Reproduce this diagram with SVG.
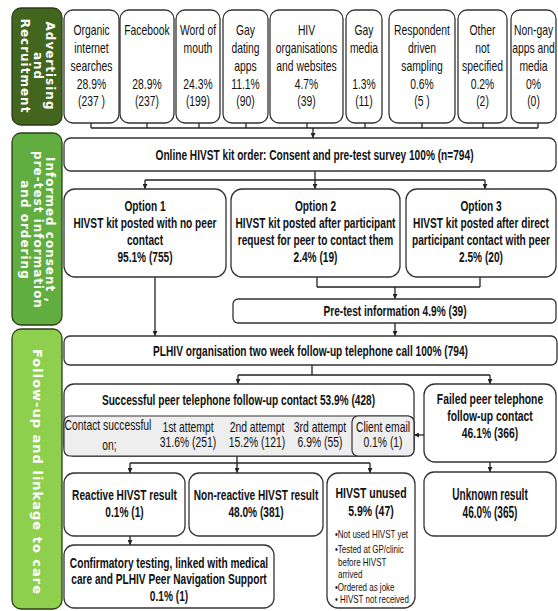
<svg xmlns="http://www.w3.org/2000/svg" width="558" height="611" viewBox="0 0 558 611">
<defs>
<marker id="ah" viewBox="0 0 6 6" refX="6" refY="3" markerWidth="5" markerHeight="5" orient="auto" markerUnits="userSpaceOnUse">
<path d="M0,0 L6,3 L0,6 z" fill="#222"/>
</marker>
<style>
.box{fill:#fff;stroke:#333;stroke-width:1.3}
.gray{fill:#eeeeee;stroke:#333;stroke-width:1.2}
.t{font-family:"Liberation Sans",Arial,sans-serif;fill:#111;text-anchor:middle}
.r{font-size:14px}
.b{font-size:14.5px;font-weight:bold}
.s{font-size:10.5px;text-anchor:start}
.side{font-family:"DejaVu Sans",sans-serif;font-weight:bold;fill:#fff;text-anchor:middle;letter-spacing:1px}
.ln{fill:none;stroke:#222;stroke-width:1.3}
.ar{fill:none;stroke:#222;stroke-width:1.3;marker-end:url(#ah)}
</style>
</defs>
<rect width="558" height="611" fill="#fff"/>

<g id="side1">
<rect x="12" y="8" width="50" height="117" rx="9" fill="#43661f" stroke="#2b3d18" stroke-width="1.3"/>
<text class="side" font-size="12" transform="translate(46,66) rotate(90)"><tspan x="0" dy="0">Advertising</tspan><tspan x="0" dy="12.5">and</tspan><tspan x="0" dy="12.5">Recruitment</tspan></text>
</g>
<g id="side2">
<rect x="12" y="133" width="50" height="192" rx="9" fill="#62ad3f" stroke="#2b3d18" stroke-width="1.3"/>
<text class="side" font-size="12" transform="translate(46,230) rotate(90)"><tspan x="0" dy="0">Informed consent ,</tspan><tspan x="0" dy="12.5">pre-test information</tspan><tspan x="0" dy="12.5">and ordering</tspan></text>
</g>
<g id="side3">
<rect x="12" y="329" width="50" height="280" rx="9" fill="#8fcf4e" stroke="#2b3d18" stroke-width="1.3"/>
<text class="side" font-size="13" transform="translate(32.5,472) rotate(90)">Follow-up and linkage to care</text>
</g>

<g id="connectors">
<path class="ln" d="M91,123 V128 M147,123 V128 M199,123 V128 M246,123 V128 M307,123 V128 M365,123 V128 M422,123 V128 M483,123 V128 M538,123 V128 M91,128 H538"/>
<path class="ar" d="M313,128 V138"/>
<path class="ln" d="M315,171 V180 M145,180 H485"/>
<path class="ar" d="M145,180 V189"/>
<path class="ar" d="M315,180 V189"/>
<path class="ar" d="M485,180 V189"/>
<path class="ln" d="M317,277 V287 M480,277 V287 M317,287 H480"/>
<path class="ar" d="M395,287 V299"/>
<path class="ar" d="M155,277 V336"/>
<path class="ar" d="M395,323 V336"/>
<path class="ln" d="M312,365 V375 M238,375 H490"/>
<path class="ar" d="M238,375 V384"/>
<path class="ar" d="M490,375 V384"/>
<path class="ar" d="M424,435 H414"/>
<path class="ar" d="M490,462 V472"/>
<path class="ln" d="M237,456 V463 M130,463 H370"/>
<path class="ar" d="M130,463 V473"/>
<path class="ar" d="M237,463 V473"/>
<path class="ar" d="M370,463 V473"/>
<path class="ar" d="M130,536 V545"/>
</g>

<g id="src-organic"><rect class="box" x="64" y="10" width="55" height="113" rx="9"/>
<text class="t r" transform="translate(91.5,0) scale(0.74,1)"><tspan x="0" y="35">Organic</tspan><tspan x="0" y="53">internet</tspan><tspan x="0" y="71">searches</tspan><tspan x="0" y="89">28.9%</tspan><tspan x="0" y="106">(237 )</tspan></text></g>
<g id="src-facebook"><rect class="box" x="120" y="10" width="54" height="113" rx="9"/>
<text class="t r" transform="translate(147,0) scale(0.74,1)"><tspan x="0" y="35">Facebook</tspan><tspan x="0" y="89">28.9%</tspan><tspan x="0" y="106">(237)</tspan></text></g>
<g id="src-wom"><rect class="box" x="176" y="10" width="44" height="113" rx="9"/>
<text class="t r" transform="translate(198,0) scale(0.74,1)"><tspan x="0" y="35">Word of</tspan><tspan x="0" y="53">mouth</tspan><tspan x="0" y="89">24.3%</tspan><tspan x="0" y="106">(199)</tspan></text></g>
<g id="src-gayapps"><rect class="box" x="223" y="10" width="45" height="113" rx="9"/>
<text class="t r" transform="translate(245.5,0) scale(0.74,1)"><tspan x="0" y="35">Gay</tspan><tspan x="0" y="53">dating</tspan><tspan x="0" y="71">apps</tspan><tspan x="0" y="89">11.1%</tspan><tspan x="0" y="106">(90)</tspan></text></g>
<g id="src-hivorg"><rect class="box" x="270" y="10" width="73" height="113" rx="9"/>
<text class="t r" transform="translate(306.5,0) scale(0.74,1)"><tspan x="0" y="35">HIV</tspan><tspan x="0" y="53">organisations</tspan><tspan x="0" y="71">and websites</tspan><tspan x="0" y="89">4.7%</tspan><tspan x="0" y="106">(39)</tspan></text></g>
<g id="src-gaymedia"><rect class="box" x="346" y="10" width="36" height="113" rx="9"/>
<text class="t r" transform="translate(364,0) scale(0.74,1)"><tspan x="0" y="35">Gay</tspan><tspan x="0" y="53">media</tspan><tspan x="0" y="89">1.3%</tspan><tspan x="0" y="106">(11)</tspan></text></g>
<g id="src-rds"><rect class="box" x="389" y="10" width="66" height="113" rx="9"/>
<text class="t r" transform="translate(422,0) scale(0.74,1)"><tspan x="0" y="35">Respondent</tspan><tspan x="0" y="53">driven</tspan><tspan x="0" y="71">sampling</tspan><tspan x="0" y="89">0.6%</tspan><tspan x="0" y="106">(5 )</tspan></text></g>
<g id="src-other"><rect class="box" x="458" y="10" width="49" height="113" rx="9"/>
<text class="t r" transform="translate(482.5,0) scale(0.74,1)"><tspan x="0" y="35">Other</tspan><tspan x="0" y="53">not</tspan><tspan x="0" y="71">specified</tspan><tspan x="0" y="89">0.2%</tspan><tspan x="0" y="106">(2)</tspan></text></g>
<g id="src-nongay"><rect class="box" x="511" y="10" width="45" height="113" rx="9"/>
<text class="t r" transform="translate(533.5,0) scale(0.74,1)"><tspan x="0" y="35">Non-gay</tspan><tspan x="0" y="53">apps and</tspan><tspan x="0" y="71">media</tspan><tspan x="0" y="89">0%</tspan><tspan x="0" y="106">(0)</tspan></text></g>

<g id="order"><rect class="box" x="64" y="138" width="492" height="33" rx="7"/>
<text class="t b" transform="translate(314.5,0) scale(0.7,1)" x="0" y="160">Online HIVST kit order: Consent and pre-test survey 100% (n=794)</text></g>

<g id="opt1"><rect class="box" x="64" y="189" width="162" height="88" rx="11"/>
<text class="t b" transform="translate(145,0) scale(0.7,1)"><tspan x="0" y="211">Option 1</tspan><tspan x="0" y="228">HIVST kit posted with no peer</tspan><tspan x="0" y="245">contact</tspan><tspan x="0" y="262">95.1% (755)</tspan></text></g>
<g id="opt2"><rect class="box" x="231" y="189" width="169" height="88" rx="11"/>
<text class="t b" transform="translate(315.5,0) scale(0.7,1)"><tspan x="0" y="211">Option 2</tspan><tspan x="0" y="228">HIVST kit posted after participant</tspan><tspan x="0" y="245">request for peer to contact them</tspan><tspan x="0" y="262">2.4% (19)</tspan></text></g>
<g id="opt3"><rect class="box" x="406" y="189" width="150" height="88" rx="11"/>
<text class="t b" transform="translate(481,0) scale(0.7,1)"><tspan x="0" y="211">Option 3</tspan><tspan x="0" y="228">HIVST kit posted after direct</tspan><tspan x="0" y="245">participant contact with peer</tspan><tspan x="0" y="262">2.5% (20)</tspan></text></g>

<g id="pretest"><rect class="box" x="233" y="299" width="323" height="24" rx="5"/>
<text class="t b" transform="translate(395,0) scale(0.7,1)" x="0" y="316">Pre-test information 4.9% (39)</text></g>

<g id="followup"><rect class="box" x="64" y="336" width="493" height="29" rx="6"/>
<text class="t b" transform="translate(310.5,0) scale(0.7,1)" x="0" y="356">PLHIV organisation two week follow-up telephone call 100% (794)</text></g>

<g id="success"><rect class="box" x="64" y="384" width="350" height="72" rx="10"/>
<text class="t b" transform="translate(238.5,0) scale(0.7,1)" x="0" y="405">Successful peer telephone follow-up contact 53.9% (428)</text>
<rect class="gray" x="64" y="416" width="350" height="40" rx="6"/>
<rect class="gray" x="352" y="416" width="62" height="40" rx="6"/>
<text class="t r" transform="translate(108,0) scale(0.74,1)"><tspan x="0" y="430">Contact successful</tspan><tspan x="2" y="450">on;</tspan></text>
<text class="t r" transform="translate(188,0) scale(0.74,1)"><tspan x="0" y="432">1st attempt</tspan><tspan x="0" y="447">31.6% (251)</tspan></text>
<text class="t r" transform="translate(257,0) scale(0.74,1)"><tspan x="0" y="432">2nd attempt</tspan><tspan x="0" y="447">15.2% (121)</tspan></text>
<text class="t r" transform="translate(320,0) scale(0.74,1)"><tspan x="0" y="432">3rd attempt</tspan><tspan x="0" y="447">6.9% (55)</tspan></text>
<text class="t r" transform="translate(383,0) scale(0.74,1)"><tspan x="0" y="432">Client email</tspan><tspan x="0" y="447">0.1% (1)</tspan></text>
</g>

<g id="failed"><rect class="box" x="424" y="384" width="132" height="78" rx="11"/>
<text class="t b" style="font-size:15px" transform="translate(490,0) scale(0.69,1)"><tspan x="0" y="404">Failed peer telephone</tspan><tspan x="0" y="421">follow-up contact</tspan><tspan x="0" y="438">46.1% (366)</tspan></text></g>

<g id="reactive"><rect class="box" x="64" y="473" width="121" height="63" rx="10"/>
<text class="t b" transform="translate(124.5,0) scale(0.7,1)"><tspan x="0" y="500">Reactive HIVST result</tspan><tspan x="0" y="517">0.1% (1)</tspan></text></g>
<g id="nonreactive"><rect class="box" x="189" y="473" width="134" height="63" rx="10"/>
<text class="t b" transform="translate(256,0) scale(0.7,1)"><tspan x="0" y="500">Non-reactive HIVST result</tspan><tspan x="0" y="517">48.0% (381)</tspan></text></g>
<g id="unused"><rect class="box" x="327" y="473" width="88" height="135" rx="11"/>
<text class="t b" style="font-size:15px" transform="translate(371,0) scale(0.7,1)"><tspan x="0" y="498">HIVST unused</tspan><tspan x="0" y="516">5.9% (47)</tspan></text>
<text class="t s" transform="translate(335,0) scale(0.76,1)"><tspan x="0" y="538">•Not used HIVST yet</tspan><tspan x="0" y="553">•Tested at GP/clinic</tspan><tspan x="4" y="566">before HIVST</tspan><tspan x="4" y="578">arrived</tspan><tspan x="0" y="591">•Ordered as joke</tspan><tspan x="0" y="603">• HIVST not received</tspan></text></g>
<g id="unknown"><rect class="box" x="424" y="472" width="132" height="64" rx="10"/>
<text class="t b" style="font-size:16px" transform="translate(490,0) scale(0.63,1)"><tspan x="0" y="500">Unknown result</tspan><tspan x="0" y="518">46.0% (365)</tspan></text></g>
<g id="confirm"><rect class="box" x="64" y="545" width="210" height="63" rx="10"/>
<text class="t b" transform="translate(169,0) scale(0.7,1)"><tspan x="0" y="568">Confirmatory testing, linked with medical</tspan><tspan x="0" y="584">care and PLHIV Peer Navigation Support</tspan><tspan x="0" y="601">0.1% (1)</tspan></text></g>
</svg>
